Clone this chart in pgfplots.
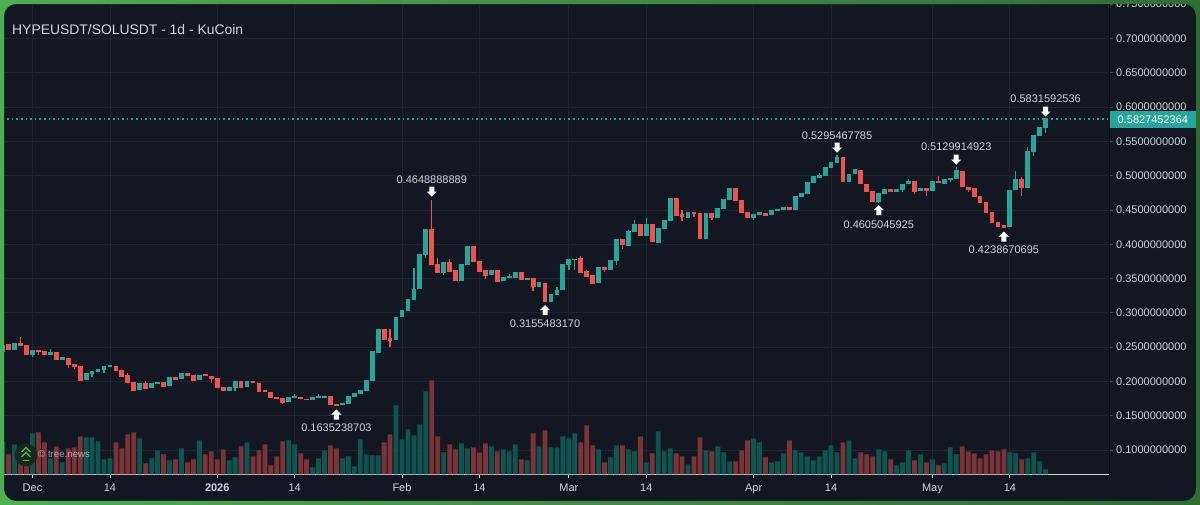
\documentclass[border=0pt]{standalone}
\usepackage{pgfplots}
\usepackage{pgfplotstable}
\pgfplotsset{compat=1.18}
\usepackage{fontspec}
\setmainfont{Liberation Sans}
\definecolor{panel}{HTML}{131722}
\definecolor{gridc}{HTML}{1F2430}
\definecolor{upc}{HTML}{26A69A}
\definecolor{dnc}{HTML}{EF5350}
\definecolor{upv}{HTML}{0E5550}
\definecolor{dnv}{HTML}{7A3337}
\definecolor{txt}{HTML}{D1D4DC}
\definecolor{frameL}{HTML}{4CAF50}
\definecolor{frameR}{HTML}{2E6E31}
\definecolor{logog}{HTML}{4CC05A}
\definecolor{logobg}{HTML}{16281E}
\pgfdeclareplotmark{uarr}{\pgfpathmoveto{\pgfqpoint{0pt}{5pt}}\pgfpathlineto{\pgfqpoint{5pt}{0pt}}\pgfpathlineto{\pgfqpoint{2.5pt}{0pt}}\pgfpathlineto{\pgfqpoint{2.5pt}{-5pt}}\pgfpathlineto{\pgfqpoint{-2.5pt}{-5pt}}\pgfpathlineto{\pgfqpoint{-2.5pt}{0pt}}\pgfpathlineto{\pgfqpoint{-5pt}{0pt}}\pgfpathclose\pgfusepathqfill}
\pgfdeclareplotmark{darr}{\pgfpathmoveto{\pgfqpoint{0pt}{-5pt}}\pgfpathlineto{\pgfqpoint{5pt}{0pt}}\pgfpathlineto{\pgfqpoint{2.5pt}{0pt}}\pgfpathlineto{\pgfqpoint{2.5pt}{5pt}}\pgfpathlineto{\pgfqpoint{-2.5pt}{5pt}}\pgfpathlineto{\pgfqpoint{-2.5pt}{0pt}}\pgfpathlineto{\pgfqpoint{-5pt}{0pt}}\pgfpathclose\pgfusepathqfill}
% d = days after 1 Dec 2025; o h l c = prices; v = volume (relative)
\pgfplotstableread{
d o h l c v
-5 .2428 .2516 .2428 .2516 33
-3 .2457 .2549 .2457 .2549 30
0 .2384 .2448 .2360 .2448 41
3 .2384 .2467 .2384 .2410 16
5 .2316 .2341 .2316 .2341 12
9 .2016 .2118 .2016 .2118 37
10 .2113 .2137 .2069 .2137 37
11 .2133 .2166 .2133 .2166 33
12 .2162 .2214 .2118 .2214 15
13 .2210 .2239 .2210 .2229 16
18 .1870 .1966 .1870 .1966 36
20 .1899 .1966 .1899 .1966 16
21 .1966 .1986 .1966 .1986 24
23 .1929 .2049 .1929 .2049 14
25 .2030 .2108 .2030 .2108 26
28 .2016 .2089 .2016 .2089 34
33 .1855 .1903 .1855 .1903 14
34 .1899 .2001 .1864 .2001 17
36 .1923 .1995 .1923 .1995 32
43 .1700 .1768 .1700 .1768 34
44 .1758 .1816 .1758 .1772 30
47 .1725 .1768 .1725 .1768 7
48 .1762 .1812 .1762 .1772 16
49 .1762 .1772 .1762 .1772 24
52 .1656 .1671 .1656 .1671 16
53 .1666 .1772 .1666 .1772 18
54 .1772 .1826 .1772 .1826 8
55 .1821 .1870 .1821 .1870 35
56 .1860 .2010 .1860 .2010 20
57 .2006 .2428 .2006 .2428 19
58 .2414 .2749 .2414 .2749 19
61 .2603 .2934 .2603 .2934 69
62 .2934 .3030 .2934 .3030 35
63 .3026 .3187 .3026 .3187 45
64 .3182 .3658 .3182 .3342 39
65 .3342 .3847 .3342 .3847 50
66 .3843 .4217 .3795 .4217 83
69 .3576 .3726 .3547 .3726 22
72 .3464 .3707 .3464 .3707 31
73 .3701 .3963 .3701 .3963 26
77 .3551 .3610 .3551 .3610 28
79 .3459 .3517 .3459 .3517 25
80 .3512 .3561 .3512 .3526 23
81 .3507 .3580 .3507 .3580 30
83 .3478 .3503 .3478 .3503 14
85 .3380 .3434 .3380 .3434 28
87 .3162 .3269 .3162 .3269 27
88 .3264 .3380 .3264 .3328 27
89 .3328 .3697 .3328 .3697 38
90 .3693 .3770 .3624 .3770 36
91 .3765 .3780 .3624 .3780 41
95 .3430 .3658 .3430 .3658 25
97 .3628 .3760 .3628 .3760 17
98 .3750 .4071 .3701 .4071 29
100 .3973 .4207 .3973 .4182 25
101 .4178 .4353 .4178 .4290 23
103 .4124 .4382 .4124 .4290 12
105 .4022 .4232 .4022 .4232 43
106 .4226 .4338 .4226 .4338 23
107 .4334 .4669 .4334 .4669 26
110 .4386 .4465 .4386 .4465 10
113 .4071 .4444 .4071 .4444 24
115 .4386 .4523 .4386 .4523 28
116 .4517 .4644 .4517 .4644 22
117 .4640 .4804 .4640 .4804 13
121 .4382 .4430 .4353 .4430 36
122 .4430 .4454 .4430 .4454 32
124 .4425 .4494 .4425 .4494 12
125 .4488 .4503 .4488 .4503 13
126 .4498 .4527 .4498 .4527 21
128 .4498 .4688 .4498 .4688 24
129 .4684 .4732 .4684 .4732 22
130 .4727 .4902 .4727 .4902 18
131 .4897 .4980 .4897 .4980 14
132 .4961 .5034 .4961 .4994 18
133 .4994 .5121 .4994 .5121 24
134 .5115 .5188 .5115 .5188 29
135 .5183 .5295 .5183 .5256 22
137 .4907 .5019 .4907 .5019 34
138 .5019 .5081 .5019 .5081 16
142 .4610 .4732 .4605 .4732 25
143 .4727 .4790 .4727 .4790 23
145 .4765 .4800 .4765 .4800 9
146 .4797 .4873 .4761 .4873 12
147 .4878 .4946 .4878 .4907 24
149 .4771 .4804 .4771 .4804 20
151 .4771 .4907 .4771 .4907 15
153 .4882 .4946 .4882 .4946 11
154 .4931 .4961 .4907 .4961 27
155 .4955 .5130 .4955 .5067 20
164 .4246 .4785 .4246 .4785 22
165 .4785 .5071 .4785 .4946 21
167 .4824 .5412 .4824 .5354 16
168 .5348 .5582 .5285 .5582 22
169 .5582 .5704 .5582 .5704 13
170 .5698 .5832 .5616 .5827 5
}\uptable
\pgfplotstableread{
d o h l c v
-4 .2530 .2530 .2453 .2453 20
-2 .2545 .2642 .2516 .2516 25
-1 .2520 .2520 .2384 .2384 20
1 .2448 .2448 .2384 .2425 42
2 .2439 .2439 .2384 .2384 32
4 .2414 .2414 .2312 .2312 28
6 .2336 .2336 .2200 .2239 26
7 .2243 .2243 .2181 .2205 27
8 .2210 .2210 .2010 .2010 38
14 .2220 .2220 .2156 .2156 32
15 .2156 .2156 .2064 .2064 26
16 .2079 .2118 .1976 .1976 40
17 .1986 .1986 .1864 .1864 42
19 .1972 .2010 .1893 .1893 11
22 .1976 .1976 .1923 .1923 20
24 .2059 .2059 .2024 .2024 15
26 .2108 .2108 .2079 .2079 12
27 .2079 .2079 .2010 .2010 15
29 .2098 .2098 .2079 .2079 20
30 .2074 .2074 .1972 .2035 23
31 .2045 .2045 .1903 .1903 15
32 .1908 .1908 .1855 .1855 25
35 .2001 .2001 .1908 .1908 28
37 .1995 .1995 .1972 .1972 18
38 .1972 .1972 .1850 .1850 24
39 .1860 .1860 .1841 .1841 30
40 .1841 .1841 .1758 .1758 9
41 .1768 .1768 .1739 .1739 18
42 .1748 .1748 .1671 .1690 33
45 .1768 .1768 .1739 .1739 21
46 .1739 .1739 .1725 .1725 15
50 .1772 .1772 .1660 .1660 29
51 .1660 .1660 .1635 .1641 26
59 .2749 .2749 .2603 .2603 32
60 .2618 .2759 .2505 .2589 40
67 .4217 .4649 .3697 .3697 94
68 .3701 .3795 .3576 .3576 38
70 .3726 .3780 .3599 .3599 30
71 .3610 .3610 .3464 .3464 25
74 .3963 .3963 .3736 .3736 27
75 .3741 .3741 .3599 .3599 22
76 .3610 .3610 .3497 .3541 31
78 .3610 .3610 .3453 .3453 23
82 .3580 .3580 .3478 .3478 15
84 .3497 .3497 .3318 .3376 41
86 .3430 .3430 .3155 .3156 44
92 .3784 .3828 .3585 .3585 32
93 .3595 .3624 .3526 .3526 49
94 .3536 .3536 .3424 .3424 29
96 .3653 .3653 .3595 .3620 12
99 .4071 .4071 .3934 .3984 29
102 .4290 .4290 .4124 .4124 38
104 .4290 .4290 .4027 .4027 21
108 .4669 .4669 .4415 .4415 21
109 .4426 .4499 .4343 .4392 18
111 .4465 .4465 .4392 .4436 18
112 .4444 .4444 .4071 .4071 37
114 .4440 .4440 .4353 .4386 23
118 .4804 .4804 .4634 .4634 13
119 .4640 .4640 .4450 .4450 24
120 .4454 .4454 .4382 .4382 34
123 .4450 .4450 .4411 .4411 17
127 .4532 .4532 .4498 .4498 34
136 .5256 .5256 .4907 .4907 32
139 .5077 .5077 .4873 .4873 22
140 .4873 .4873 .4761 .4761 20
141 .4765 .4765 .4620 .4620 18
144 .4790 .4790 .4765 .4765 15
148 .4907 .4907 .4732 .4768 14
150 .4804 .4804 .4698 .4771 12
152 .4911 .4994 .4888 .4888 9
156 .5063 .5063 .4829 .4829 28
157 .4829 .4829 .4765 .4794 23
158 .4804 .4804 .4683 .4683 21
159 .4692 .4692 .4596 .4596 16
160 .4600 .4600 .4450 .4450 20
161 .4454 .4454 .4309 .4309 24
162 .4313 .4313 .4251 .4251 23
163 .4275 .4275 .4239 .4243 25
166 .4946 .4975 .4702 .4819 15
}\dntable
\begin{document}
\begin{tikzpicture}[x=1pt,y=1pt]
\useasboundingbox (0,0) rectangle (1200,505);
\fill[panel] (0,0) rectangle (1200,505);
\begin{axis}[
  at={(4pt,30pt)}, anchor=south west, scale only axis,
  width=1106pt, height=471pt,
  xmin=-4.78, xmax=180.8, ymin=0.0636, ymax=0.7503,
  axis x line=bottom, axis y line=right, separate axis lines=true,
  axis line style={-},
  x axis line style={draw=white!85!black, line width=1pt},
  y axis line style={draw=black, line width=1pt},
  grid=major, grid style={gridc, line width=0.8pt},
  tick align=outside, major tick length=3pt,
  tick style={txt, line width=0.8pt},
  ytick style={draw=gray!50!panel},
  xtick={0,13,31,44,62,75,90,103,121,134,151,164},
  xticklabels={Dec,14,\textbf{2026},14,Feb,14,Mar,14,Apr,14,May,14},
  ytick={0.10,0.15,0.20,0.25,0.30,0.35,0.40,0.45,0.50,0.55,0.60,0.65,0.70,0.75},
  yticklabels={0.1000000000,0.1500000000,0.2000000000,0.2500000000,0.3000000000,0.3500000000,0.4000000000,0.4500000000,0.5000000000,0.5500000000,0.6000000000,0.6500000000,0.7000000000,0.7500000000},
  xticklabel style={text=txt, font=\fontsize{11}{13}\selectfont, yshift=-2pt},
  yticklabel style={text=txt, font=\fontsize{11}{13}\selectfont, inner sep=0pt, anchor=west, xshift=3pt},
  clip=true,
]
\addplot[upc, line width=1.1pt, dash pattern=on 1.6pt off 3pt, forget plot] coordinates {(-5,0.5827)(181,0.5827)};
\addplot[draw=none, forget plot, error bars/.cd, y dir=plus, y explicit, error mark=none, error bar style={color=upc, line width=1.3pt}]
  table[x=d, y=l, y error plus expr=\thisrow{h}-\thisrow{l}] {\uptable};
\addplot[draw=none, forget plot, error bars/.cd, y dir=plus, y explicit, error mark=none, error bar style={color=dnc, line width=1.3pt}]
  table[x=d, y=l, y error plus expr=\thisrow{h}-\thisrow{l}] {\dntable};
\addplot[draw=none, forget plot, error bars/.cd, y dir=plus, y explicit, error mark=none, error bar style={draw=upc, line width=4.8pt}]
  table[x=d, y=o, y error plus expr=\thisrow{c}-\thisrow{o}+0.0012] {\uptable};
\addplot[draw=none, forget plot, error bars/.cd, y dir=plus, y explicit, error mark=none, error bar style={draw=dnc, line width=4.8pt}]
  table[x=d, y=c, y error plus expr=\thisrow{o}-\thisrow{c}+0.0012] {\dntable};
\addplot[only marks, mark=uarr, white, forget plot] coordinates {(51,.1517)(86,.3041)(142,.4499)(163,.4112)};
\addplot[only marks, mark=darr, white, forget plot] coordinates {(67,.4768)(135,.5410)(155,.5235)(170,.5934)};
\tikzset{ann/.style={text=txt, font=\fontsize{11}{13}\selectfont, inner sep=0pt}}
\node[ann] at (axis cs:51,.1328) {0.1635238703};
\node[ann] at (axis cs:67,.4943) {0.4648888889};
\node[ann] at (axis cs:86,.2844) {0.3155483170};
\node[ann] at (axis cs:135,.5584) {0.5295467785};
\node[ann] at (axis cs:142,.4280) {0.4605045925};
\node[ann] at (axis cs:155,.5424) {0.5129914923};
\node[ann] at (axis cs:163,.3915) {0.4238670695};
\node[ann] at (axis cs:170,.6117) {0.5831592536};
\end{axis}
\begin{axis}[
  at={(4pt,30.5pt)}, anchor=south west, scale only axis,
  width=1106pt, height=471pt,
  xmin=-4.78, xmax=180.8, ymin=0, ymax=471,
  axis lines=none, ybar, bar width=4.8pt,
]
\addplot[fill=upv, draw=none, bar shift=0pt] table[x=d, y=v] {\uptable};
\addplot[fill=dnv, draw=none, bar shift=0pt] table[x=d, y=v] {\dntable};
\end{axis}
% price tag
\fill[upc] (1110,377.3) rectangle (1196,394);
\node[anchor=west, inner sep=0pt, text=white, font=\fontsize{11}{13}\selectfont] at (1117.5,385.5) {0.5827452364};
% title
\node[anchor=west, inner sep=0pt, text=txt, font=\fontsize{13.9}{16}\selectfont] at (12,475) {HYPEUSDT/SOLUSDT - 1d - KuCoin};
% logo
\fill[logobg] (26,50) circle (11.5);
\draw[logog, line width=1.3pt] (21.5,53) -- (26,57.5) -- (30.5,53);
\draw[logog, line width=1.3pt] (21.5,48) -- (26,52.5) -- (30.5,48);
\draw[logog, line width=1.5pt] (23,44.5) -- (29,44.5);
\node[anchor=west, inner sep=0pt, text=white, text opacity=0.6, font=\fontsize{9.7}{11}\selectfont] at (38,50.5) {© tree.news};
% frame
\shade[left color=frameL, right color=frameR, even odd rule] (0,0) rectangle (1200,505) [rounded corners=12pt] (4,4) rectangle (1196,501);
\end{tikzpicture}
\end{document}
